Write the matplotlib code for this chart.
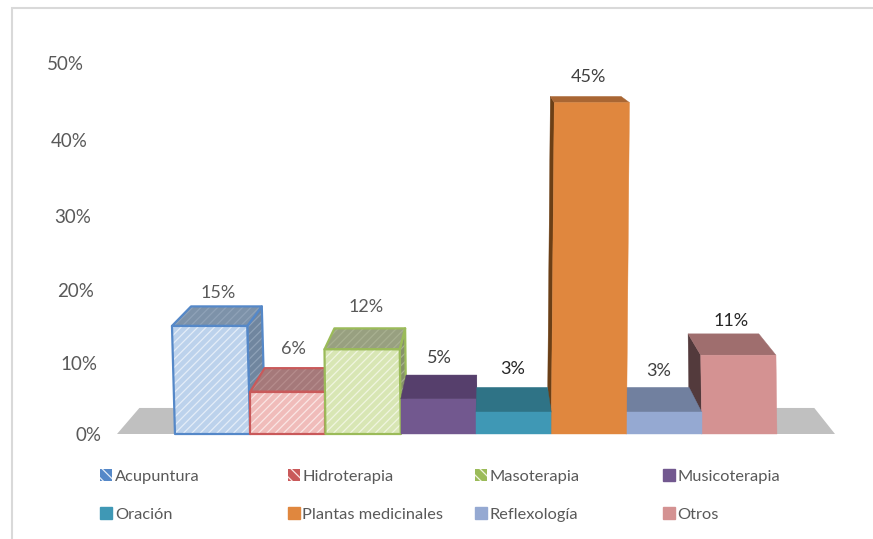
import matplotlib
matplotlib.use("Agg")
import matplotlib.pyplot as plt
from matplotlib.patches import Patch, Polygon, Rectangle

categories = ["Acupuntura", "Hidroterapia", "Masoterapia", "Musicoterapia",
              "Oración", "Plantas medicinales", "Reflexología", "Otros"]
values = [14.8, 5.8, 11.6, 4.8, 3.0, 45.4, 3.0, 10.8]
y_ticks = [0, 10, 20, 30, 40, 50]

front_colors = ["#bcd2ec", "#f0bcba", "#d8e6b4", "#72588f",
                "#3f98b5", "#e0873e", "#95a9d2", "#d49292"]
top_colors = ["#7d92a9", "#a5797a", "#98a080", "#563f6c",
              "#2f7386", "#a96633", "#71809f", "#9f6e6e"]
side_colors = ["#70869f", "#8a6060", "#87926a", "#4a3560",
               "#2a6375", "#6b3f16", "#5d6c88", "#533a3c"]
edge_colors = ["#5588c8", "#c9595a", "#9bbb59", None, None, None, None, None]
front_hatch = ["#e4edf8", "#fae6e5", "#f0f5e0", None, None, None, None, None]
top_hatch = ["#8fa2b8", "#b58c8c", "#a8b090", None, None, None, None, None]
label_colors = ["#595959", "#595959", "#595959", "#404040",
                "#262626", "#404040", "#404040", "#262626"]

TEXT = "#595959"
FONT = ["Lato", "DejaVu Sans"]

# pixel calibration of the picture
W, H = 873, 539
PX_X0 = 212.6
PX_BAR = 75.25
PX_UNIT = 7.3
PX_ZERO = 434

# perspective, back of a bar is pulled towards this point
VP_X = (490 - PX_X0) / PX_BAR
VP_Y = PX_ZERO / PX_UNIT
DEPTH = 0.94

# sideways lean of the bar tops and label gap above the bar, in pixels
lean_px = [-3, 0, -1, 0, 0, 3, 0, -1]
gap_px = [13, 19, 21, 17, 18, 19, 16, 13]


def back(x, y):
    return (VP_X + DEPTH * (x - VP_X), VP_Y + DEPTH * (y - VP_Y))


def draw_face(ax, pts, color, edge, hatched, zorder):
    if hatched:
        ax.add_patch(Polygon(pts, closed=True, facecolor=color,
                             edgecolor=hatched, hatch="////", lw=0, zorder=zorder))
        ax.add_patch(Polygon(pts, closed=True, fill=False, edgecolor=edge,
                             lw=1.6, joinstyle="round", zorder=zorder))
    else:
        ax.add_patch(Polygon(pts, closed=True, facecolor=color,
                             edgecolor=color, lw=0.3, zorder=zorder))


plt.rcParams["hatch.linewidth"] = 0.9
fig = plt.figure(figsize=(W / 100, H / 100), dpi=100, facecolor="white")
ax = fig.add_axes([0, 0, 1, 1])
ax.set_xlim((0 - PX_X0) / PX_BAR, (W - PX_X0) / PX_BAR)
ax.set_ylim((PX_ZERO - H) / PX_UNIT, PX_ZERO / PX_UNIT)
ax.axis("off")

# outer frame of the chart
frame = Rectangle((12 / W, -0.1), 1.1, 1 - 8 / H + 0.1, transform=fig.transFigure,
                  fill=False, edgecolor="#d9d9d9", lw=1.5)
fig.add_artist(frame)

# floor
floor_l = (117 - PX_X0) / PX_BAR
floor_r = (835 - PX_X0) / PX_BAR
ax.add_patch(Polygon([(floor_l, 0), (floor_r, 0), back(floor_r, 0), back(floor_l, 0)],
                     closed=True, facecolor="#c0c0c0", edgecolor="none", zorder=1))

# outer bars first, so the ones near the centre sit on top
order = [0, 1, 2, 3, 7, 6, 5, 4]
for z, i in enumerate(order):
    v = values[i]
    left, right = i - 0.5, i + 0.5
    tl = left + lean_px[i] / PX_BAR
    tr = right + lean_px[i] / PX_BAR
    edge = edge_colors[i]
    zorder = 2 + z
    # side wall
    if tr < VP_X:
        side = [(right, 0), (tr, v), back(tr, v), back(right, 0)]
        draw_face(ax, side, side_colors[i], edge, top_hatch[i], zorder)
    elif tl > VP_X:
        side = [(left, 0), (tl, v), back(tl, v), back(left, 0)]
        draw_face(ax, side, side_colors[i], edge, None, zorder)
    # top
    top = [(tl, v), (tr, v), back(tr, v), back(tl, v)]
    draw_face(ax, top, top_colors[i], edge, top_hatch[i], zorder)
    # front
    front = [(left, 0), (right, 0), (tr, v), (tl, v)]
    draw_face(ax, front, front_colors[i], edge, front_hatch[i], zorder)

# value labels, half way between front and back of the top
for i, v in enumerate(values):
    xb, yb = back(i, v)
    x = (i + xb) / 2 + lean_px[i] / PX_BAR
    ax.text(x, yb + gap_px[i] / PX_UNIT, f"{v:.0f}%", ha="center", va="center",
            fontsize=13, color=label_colors[i], family=FONT, zorder=20)

# y labels lean along the back wall and spread out with height
for t in y_ticks:
    y = (t * (7.053 + 0.00733 * t) - 1.5) / PX_UNIT
    x = (101 - 0.34 * t - PX_X0) / PX_BAR
    ax.text(x, y, f"{t}%", ha="right", va="center", fontsize=13.5, color=TEXT,
            family=FONT, zorder=20)

# legend: four columns, two rows, filled row by row
for col in range(4):
    handles = []
    labels = []
    for row in range(2):
        i = row * 4 + col
        if edge_colors[i]:
            h = Patch(facecolor=edge_colors[i], edgecolor=front_hatch[i], hatch="\\\\\\",
                      lw=0)
        else:
            h = Patch(facecolor=front_colors[i], edgecolor=front_colors[i])
        handles.append(h)
        labels.append(categories[i])
    fig.legend(handles, labels, loc="upper left",
               bbox_to_anchor=((100 + 187.5 * col) / W, 1 - 469 / H),
               bbox_transform=fig.transFigure, frameon=False, ncol=1,
               handlelength=0.75, handleheight=0.75, handletextpad=0.15,
               labelspacing=1.42, borderpad=0, borderaxespad=0,
               labelcolor=TEXT, prop={"family": FONT, "size": 11.8})

fig.savefig("out.png", dpi=100)
